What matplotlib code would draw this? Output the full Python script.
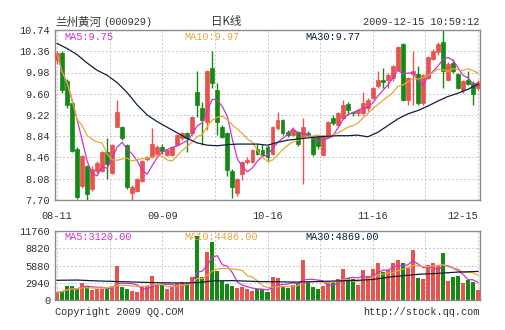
import matplotlib
matplotlib.use("Agg")
import matplotlib.pyplot as plt
import numpy as np
import pandas as pd

# daily K-line, 2009-08-11 .. 2009-12-15 (85 trading days)
opens = [10.20, 10.32, 9.82, 9.43, 8.62, 7.95, 8.30, 7.89, 8.22, 8.22,
         8.56, 8.19, 9.01, 9.01, 8.68, 7.83, 7.86, 8.04, 8.43, 8.47,
         8.53, 8.65, 8.50, 8.50, 8.68, 8.80, 8.89, 8.89, 9.64, 9.34,
         9.10, 10.06, 9.67, 9.01, 8.89, 8.22, 7.83, 8.16, 8.38, 8.38,
         8.62, 8.59, 8.65, 8.53, 8.98, 9.13, 8.92, 8.86, 8.92, 8.83,
         8.89, 8.82, 8.82, 8.50, 8.83, 9.17, 9.04, 9.16, 9.41, 9.28,
         9.25, 9.25, 9.34, 9.52, 9.73, 9.84, 9.85, 9.88, 10.03, 10.49,
         9.49, 9.96, 9.96, 9.43, 9.88, 10.22, 10.34, 10.52, 9.85, 10.15,
         9.96, 9.67, 9.85, 9.79, 9.70]
highs = [10.37, 10.37, 9.86, 9.45, 8.65, 8.50, 8.32, 8.30, 8.40, 8.58,
         8.80, 8.70, 9.49, 9.03, 8.70, 7.96, 8.09, 8.42, 8.49, 8.98,
         8.68, 8.70, 8.62, 8.67, 8.88, 8.91, 8.91, 9.21, 10.00, 9.46,
         10.02, 10.37, 9.79, 9.04, 8.91, 8.25, 8.10, 8.40, 8.46, 8.62,
         8.70, 8.70, 8.68, 9.03, 9.27, 9.15, 8.95, 9.00, 8.94, 9.16,
         8.93, 8.85, 8.84, 8.86, 9.12, 9.22, 9.27, 9.49, 9.46, 9.30,
         9.33, 9.64, 9.52, 9.72, 10.00, 10.06, 9.97, 10.12, 10.46, 10.51,
         9.90, 10.37, 10.09, 9.96, 10.27, 10.40, 10.52, 10.74, 10.17, 10.22,
         9.98, 9.85, 10.00, 9.82, 9.84]
lows = [10.13, 9.62, 9.35, 8.55, 7.72, 7.92, 7.70, 7.86, 8.18, 8.20,
        8.07, 8.17, 9.00, 8.78, 7.90, 7.68, 7.84, 8.02, 8.40, 8.45,
        8.50, 8.52, 8.48, 8.48, 8.66, 8.78, 8.56, 8.87, 9.19, 8.68,
        8.95, 9.70, 8.86, 8.80, 8.13, 7.74, 7.77, 8.05, 8.35, 8.36,
        8.50, 8.48, 8.38, 8.50, 8.96, 8.87, 8.83, 8.84, 8.66, 7.98,
        8.82, 8.48, 8.62, 8.48, 8.80, 9.05, 9.02, 9.14, 9.22, 9.20,
        9.20, 9.22, 9.30, 9.50, 9.71, 9.70, 9.70, 9.82, 10.00, 9.47,
        9.40, 9.40, 9.40, 9.40, 9.86, 10.20, 10.30, 9.70, 9.83, 9.97,
        9.68, 9.61, 9.75, 9.40, 9.66]
closes = [10.32, 9.67, 9.40, 8.58, 7.75, 8.48, 7.80, 8.26, 8.37, 8.56,
          8.35, 8.68, 9.27, 8.80, 7.93, 7.94, 8.07, 8.40, 8.47, 8.71,
          8.65, 8.58, 8.60, 8.65, 8.86, 8.89, 8.80, 9.19, 9.40, 9.13,
          10.00, 9.79, 9.10, 8.83, 8.24, 7.93, 8.07, 8.38, 8.41, 8.59,
          8.53, 8.50, 8.47, 9.01, 9.13, 8.89, 8.87, 8.95, 8.71, 9.01,
          8.86, 8.53, 8.66, 8.84, 9.10, 9.07, 9.25, 9.40, 9.31, 9.25,
          9.31, 9.43, 9.49, 9.70, 9.85, 9.81, 9.94, 10.09, 10.44, 9.49,
          9.88, 10.00, 9.43, 9.94, 10.25, 10.37, 10.49, 10.00, 10.14, 10.00,
          9.70, 9.82, 9.77, 9.59, 9.81]
volumes = [1280, 1560, 2350, 2350, 1960, 2860, 2300, 1740, 1960, 1960,
           1960, 2410, 5710, 2210, 1960, 1600, 1420, 2160, 2450, 4030,
           2350, 2630, 1890, 2160, 2910, 3100, 2910, 3840, 10940, 3840,
           8140, 9960, 4870, 3190, 2720, 2450, 2070, 2160, 1890, 1600,
           1790, 1790, 1420, 3940, 3700, 2350, 2130, 2540, 2960, 6890,
           3000, 2260, 1890, 2410, 3000, 3000, 3660, 5210, 3750, 3660,
           2540, 5060, 4030, 5210, 6270, 4780, 5150, 6270, 6740, 6330,
           5430, 8560, 3810, 3530, 5900, 6270, 5900, 7950, 3250, 3840,
           4090, 2820, 3360, 3100, 1700]

# 30-day averages (they need history before 08-11)
ma30_idx = [0, 2, 4, 6, 8, 10, 12, 14, 16, 18, 20, 22, 24, 26, 28, 30, 32,
            34, 36, 38, 40, 42, 44, 46, 48, 50, 52, 54, 56, 58, 60, 62, 64,
            66, 68, 70, 72, 74, 76, 78, 80, 82, 84]
ma30_vals = [10.50, 10.41, 10.30, 10.15, 10.02, 9.93, 9.80, 9.62, 9.40,
             9.22, 9.10, 9.00, 8.90, 8.80, 8.72, 8.68, 8.67, 8.69, 8.70,
             8.70, 8.70, 8.68, 8.73, 8.77, 8.79, 8.81, 8.83, 8.84, 8.85,
             8.85, 8.86, 8.83, 8.91, 9.03, 9.15, 9.24, 9.30, 9.38, 9.47,
             9.55, 9.61, 9.68, 9.77]
vol_ma30_idx = [0, 4, 8, 12, 16, 20, 24, 28, 31, 35, 40, 44, 48, 52, 56,
                60, 63, 67, 72, 76, 80, 84]
vol_ma30_vals = [3360, 3400, 3250, 3150, 3050, 2950, 2900, 2950, 3250, 3300,
                 3150, 3100, 3050, 3150, 3250, 3350, 3500, 3980, 4370, 4540,
                 4760, 4869]

date_idx = [0, 21, 42, 63, 84]
date_labels = ["08-11", "09-09", "10-16", "11-16", "12-15"]
price_ticks = [7.70, 8.08, 8.46, 8.84, 9.22, 9.60, 9.98, 10.36, 10.74]
vol_ticks = [0, 2940, 5880, 8820, 11760]

RED = "#e8524f"
GREEN = "#148a14"
C_MA5 = "#cc33cc"
C_MA10 = "#e8a838"
C_MA30 = "#0d1f3f"
GRID = "#c8c8c8"
EDGE = "#8c8c8c"
TXT = "#333333"
MONO = "Liberation Mono"
W, H = 505, 330


def px(x, y):
    return x / W, 1 - y / H


def style(ax, ticks, labels):
    ax.set_yticks(ticks)
    ax.set_yticklabels(labels, family=MONO, fontsize=7.4, color=TXT)
    ax.set_xlim(-0.4, 84.4)
    ax.set_xticks(date_idx)
    ax.set_xticks(np.arange(10.5, 84, 21), minor=True)
    ax.tick_params(which="both", length=0, pad=3.5)
    ax.grid(True, which="both", color=GRID, linestyle=(0, (2, 2)), linewidth=0.7)
    ax.set_axisbelow(True)
    for s in ax.spines.values():
        s.set_color(EDGE)
        s.set_linewidth(1.0)


o, h, l, c = map(np.array, (opens, highs, lows, closes))
x = np.arange(len(c))
colors = np.where(c >= o, RED, GREEN)

fig = plt.figure(figsize=(W / 100, H / 100), dpi=100)

# price panel
ax = fig.add_axes([55 / W, 1 - 200 / H, 425 / W, 170 / H])
ax.vlines(x, l, h, colors=colors, linewidth=1.0, zorder=2)
ax.bar(x, np.abs(c - o), bottom=np.minimum(o, c), width=0.78, color=colors,
       edgecolor=colors, linewidth=0.5, zorder=3)
cs = pd.Series(c)
ax.plot(x, cs.rolling(5, min_periods=1).mean(), color=C_MA5, lw=0.9, zorder=4)
ax.plot(x, cs.rolling(10, min_periods=1).mean(), color=C_MA10, lw=0.9, zorder=4)
ax.plot(ma30_idx, ma30_vals, color=C_MA30, lw=0.9, zorder=4)
ax.set_ylim(7.70, 10.74)
style(ax, price_ticks, [f"{t:.2f}" for t in price_ticks])
ax.set_xticklabels(date_labels, family=MONO, fontsize=7.4, color=TXT)
ax.tick_params(axis="x", pad=8)
ax.get_xticklabels()[-1].set_horizontalalignment("right")
ax.get_xticklabels()[-1].set_x(84.6)

# volume panel
axv = fig.add_axes([55 / W, 1 - 300 / H, 425 / W, 69 / H])
axv.bar(x, volumes, width=0.8, color=colors, linewidth=0, zorder=2)
vs = pd.Series(volumes, dtype=float)
axv.plot(x, vs.rolling(5, min_periods=1).mean(), color=C_MA5, lw=0.9, zorder=3)
axv.plot(x, vs.rolling(10, min_periods=1).mean(), color=C_MA10, lw=0.9, zorder=3)
axv.plot(vol_ma30_idx, vol_ma30_vals, color=C_MA30, lw=0.9, zorder=3)
axv.set_ylim(0, 11760)
style(axv, vol_ticks, [str(t) for t in vol_ticks])
axv.set_xticklabels([])

# header
fig.text(*px(55, 22), "兰州黄河", family="Noto Sans CJK SC", fontsize=8.3,
         color=TXT, va="center")
fig.text(*px(103, 22), "(000929)", family=MONO, fontsize=7.4, color=TXT, va="center")
fig.text(*px(226, 22), "日K线", family="Noto Sans CJK SC", fontsize=8.3,
         color=TXT, va="center", ha="center")
fig.text(*px(479, 22), "2009-12-15 10:59:12", family=MONO, fontsize=7.4,
         color=TXT, va="center", ha="right")

# MA legends
for xx, txt, col in [(64, "MA5:9.75", C_MA5), (184, "MA10:9.97", C_MA10),
                     (305, "MA30:9.77", C_MA30)]:
    fig.text(*px(xx, 37), txt, family=MONO, fontsize=7.4, color=col, va="center")
for xx, txt, col in [(64, "MA5:3120.00", C_MA5), (184, "MA10:4486.00", C_MA10),
                     (305, "MA30:4869.00", C_MA30)]:
    fig.text(*px(xx, 237), txt, family=MONO, fontsize=7.4, color=col, va="center")

# footer
fig.text(*px(55, 312), "Copyright 2009 QQ.COM", family=MONO, fontsize=7.4,
         color=TXT, va="center")
fig.text(*px(480, 312), "http://stock.qq.com", family=MONO, fontsize=7.4,
         color=TXT, va="center", ha="right")

fig.savefig("out.png", dpi=100)
